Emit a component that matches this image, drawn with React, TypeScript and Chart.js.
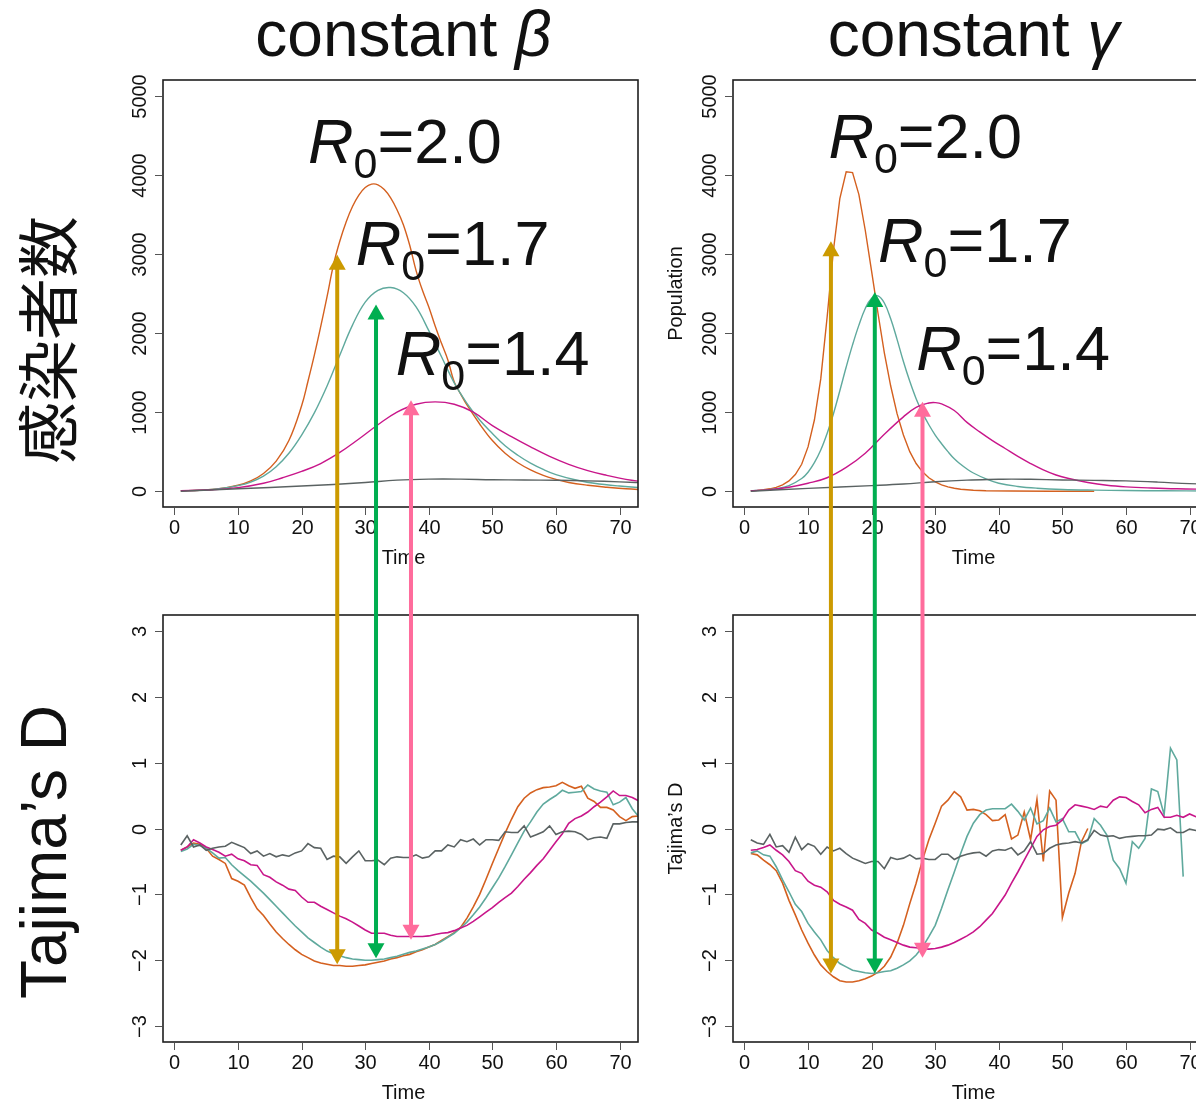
import React, { useEffect, useRef } from 'react';
import { Chart, registerables } from 'chart.js';

Chart.register(...registerables);

// ---------------- data ----------------
const X_TICKS = [0, 10, 20, 30, 40, 50, 60, 70];
const POP_TICKS = [0, 1000, 2000, 3000, 4000, 5000];
const D_TICKS = [-3, -2, -1, 0, 1, 2, 3];
const D_TICK_LABELS = ['\u22123', '\u22122', '\u22121', '0', '1', '2', '3'];
const R0_VALUES = ['2.0', '1.7', '1.4'];

// constant beta, infected population
const betaR20Time = [1, 4, 7, 10, 12, 14, 16, 18, 20, 21, 22, 23, 24, 25, 26, 27, 28, 29, 30, 31, 32, 33, 34, 35, 36, 37, 38, 39, 40, 41, 42, 43, 44, 45, 46, 48, 50, 52, 54, 56, 58, 60, 62, 65, 68, 71, 75];
const betaR20Pop = [5, 12, 30, 75, 130, 224, 380, 640, 1080, 1390, 1720, 2080, 2460, 2860, 3160, 3405, 3600, 3745, 3840, 3883, 3875, 3815, 3710, 3560, 3370, 3110, 2790, 2540, 2330, 2090, 1870, 1660, 1380, 1230, 1090, 850, 640, 480, 360, 270, 200, 150, 110, 75, 50, 30, 15];
const betaR17Time = [1, 4, 7, 10, 12, 14, 16, 18, 20, 22, 24, 26, 28, 30, 32, 34, 36, 38, 40, 42, 44, 46, 48, 50, 52, 54, 56, 58, 60, 63, 66, 70, 75];
const betaR17Pop = [5, 12, 30, 70, 115, 190, 310, 480, 710, 990, 1330, 1720, 2100, 2390, 2540, 2575, 2510, 2330, 2030, 1700, 1370, 1110, 900, 730, 575, 455, 355, 275, 210, 145, 100, 65, 35];
const betaR14Time = [1, 5, 10, 14, 17, 20, 23, 26, 29, 32, 35, 38, 41, 44, 47, 50, 53, 56, 59, 62, 65, 68, 71, 75];
const betaR14Pop = [5, 15, 45, 100, 170, 250, 350, 490, 660, 840, 1000, 1100, 1130, 1100, 1000, 830, 690, 560, 440, 340, 260, 200, 150, 105];
const betaR10Time = [1, 10, 20, 25, 30, 35, 40, 45, 50, 55, 60, 65, 70, 75];
const betaR10Pop = [0, 30, 65, 85, 110, 140, 152, 152, 145, 142, 138, 130, 118, 100];

// constant gamma, infected population
const gammaR20Time = [1, 2, 3, 4, 5, 6, 7, 8, 9, 10, 11, 12, 13, 14, 15, 16, 17, 18, 19, 20, 21, 22, 23, 24, 25, 26, 27, 28, 29, 30, 31, 32, 33, 34, 36, 38, 42, 48, 55];
const gammaR20Pop = [5, 10, 18, 30, 48, 80, 130, 210, 340, 560, 900, 1420, 2200, 3050, 3700, 4040, 4030, 3750, 3300, 2780, 2250, 1750, 1330, 980, 710, 500, 350, 245, 170, 118, 80, 55, 37, 25, 12, 6, 2, 0, 0];
const gammaR17Time = [1, 3, 5, 7, 9, 10, 11, 12, 13, 14, 15, 16, 17, 18, 19, 20, 21, 22, 23, 24, 25, 26, 27, 28, 29, 30, 31, 32, 33, 34, 35, 36, 38, 40, 43, 46, 50, 55, 60, 66, 73];
const gammaR17Pop = [5, 14, 30, 70, 160, 240, 360, 520, 730, 980, 1270, 1570, 1850, 2100, 2310, 2440, 2470, 2380, 2180, 1920, 1640, 1390, 1170, 990, 840, 710, 600, 500, 410, 340, 280, 230, 155, 100, 60, 38, 22, 13, 8, 5, 3];
const gammaR14Time = [1, 4, 7, 10, 13, 16, 19, 22, 25, 27, 29, 30, 31, 33, 35, 37, 39, 41, 43, 45, 47, 49, 51, 54, 57, 60, 64, 68, 73];
const gammaR14Pop = [5, 20, 50, 100, 170, 300, 480, 720, 940, 1060, 1115, 1120, 1105, 1020, 870, 750, 640, 540, 440, 350, 270, 205, 160, 110, 75, 55, 40, 30, 25];
const gammaR10Time = [1, 10, 20, 25, 30, 35, 40, 42, 45, 50, 55, 60, 65, 70, 75];
const gammaR10Pop = [0, 35, 70, 90, 120, 140, 150, 153, 150, 142, 137, 130, 115, 95, 85];

// Tajima's D, one value per day starting at day 1
const betaR20D = [-0.33, -0.28, -0.22, -0.24, -0.30, -0.42, -0.47, -0.53, -0.76, -0.80, -0.86, -1.05, -1.22, -1.32, -1.45, -1.57, -1.67, -1.76, -1.84, -1.91, -1.96, -2.01, -2.04, -2.06, -2.08, -2.08, -2.09, -2.09, -2.08, -2.07, -2.05, -2.03, -2.01, -1.98, -1.96, -1.93, -1.91, -1.87, -1.84, -1.80, -1.76, -1.70, -1.64, -1.58, -1.50, -1.36, -1.19, -1.00, -0.77, -0.53, -0.30, -0.07, 0.14, 0.33, 0.46, 0.54, 0.59, 0.62, 0.63, 0.65, 0.70, 0.65, 0.61, 0.64, 0.46, 0.41, 0.32, 0.32, 0.28, 0.18, 0.12, 0.18, 0.19];
const betaR17D = [-0.35, -0.31, -0.24, -0.26, -0.30, -0.37, -0.45, -0.44, -0.55, -0.64, -0.72, -0.80, -0.89, -0.98, -1.08, -1.18, -1.28, -1.38, -1.48, -1.57, -1.66, -1.73, -1.80, -1.86, -1.90, -1.93, -1.96, -1.98, -1.99, -2.00, -2.00, -1.99, -1.98, -1.96, -1.94, -1.91, -1.88, -1.86, -1.83, -1.80, -1.76, -1.71, -1.65, -1.59, -1.51, -1.42, -1.31, -1.19, -1.05, -0.90, -0.75, -0.58, -0.40, -0.22, -0.04, 0.10, 0.25, 0.37, 0.44, 0.50, 0.58, 0.54, 0.55, 0.56, 0.66, 0.60, 0.57, 0.55, 0.36, 0.40, 0.47, 0.30, 0.18];
const betaR14D = [-0.33, -0.28, -0.17, -0.22, -0.28, -0.32, -0.36, -0.42, -0.39, -0.46, -0.49, -0.55, -0.56, -0.70, -0.74, -0.81, -0.86, -0.92, -0.94, -1.04, -1.12, -1.12, -1.18, -1.23, -1.28, -1.33, -1.37, -1.42, -1.48, -1.54, -1.59, -1.59, -1.59, -1.62, -1.64, -1.64, -1.64, -1.64, -1.64, -1.63, -1.61, -1.59, -1.58, -1.55, -1.51, -1.47, -1.41, -1.34, -1.27, -1.20, -1.12, -1.05, -0.98, -0.88, -0.77, -0.67, -0.56, -0.46, -0.33, -0.20, -0.08, 0.08, 0.15, 0.19, 0.25, 0.33, 0.40, 0.48, 0.57, 0.50, 0.50, 0.47, 0.42];
const betaR10D = [-0.25, -0.11, -0.28, -0.25, -0.33, -0.30, -0.28, -0.27, -0.21, -0.25, -0.29, -0.38, -0.34, -0.42, -0.38, -0.43, -0.40, -0.42, -0.37, -0.34, -0.23, -0.29, -0.30, -0.47, -0.42, -0.43, -0.53, -0.43, -0.34, -0.49, -0.49, -0.48, -0.55, -0.45, -0.43, -0.44, -0.44, -0.40, -0.45, -0.43, -0.34, -0.34, -0.25, -0.28, -0.17, -0.20, -0.16, -0.25, -0.17, -0.17, -0.18, -0.05, -0.06, -0.06, 0.04, -0.13, -0.09, -0.05, 0.04, -0.09, -0.05, -0.04, -0.05, -0.09, -0.17, -0.14, -0.13, -0.15, 0.07, 0.07, 0.09, 0.10, 0.10];

const gammaR20D = [-0.38, -0.40, -0.48, -0.55, -0.64, -0.83, -1.09, -1.31, -1.54, -1.74, -1.92, -2.07, -2.17, -2.25, -2.31, -2.33, -2.33, -2.31, -2.28, -2.24, -2.18, -2.09, -1.95, -1.74, -1.47, -1.14, -0.83, -0.48, -0.17, 0.08, 0.34, 0.43, 0.56, 0.48, 0.28, 0.29, 0.27, 0.21, 0.12, 0.13, 0.21, -0.16, -0.10, 0.25, -0.17, 0.44, -0.50, 0.57, 0.43, -1.35, -0.98, -0.68, -0.20, 0.00];
const gammaR17D = [-0.37, -0.34, -0.40, -0.42, -0.58, -0.78, -0.96, -1.15, -1.26, -1.44, -1.57, -1.69, -1.85, -1.96, -2.05, -2.10, -2.15, -2.17, -2.19, -2.20, -2.19, -2.17, -2.16, -2.12, -2.07, -2.01, -1.92, -1.80, -1.64, -1.47, -1.21, -0.93, -0.66, -0.38, -0.12, 0.08, 0.21, 0.28, 0.30, 0.30, 0.30, 0.37, 0.26, 0.13, 0.31, 0.07, 0.12, 0.31, 0.10, 0.15, -0.05, -0.05, -0.23, -0.18, 0.15, 0.05, -0.10, -0.48, -0.61, -0.83, -0.20, -0.30, -0.15, 0.60, 0.56, 0.21, 1.22, 1.04, -0.73];
const gammaR14D = [-0.33, -0.32, -0.29, -0.25, -0.33, -0.40, -0.50, -0.64, -0.68, -0.80, -0.86, -0.89, -0.96, -1.09, -1.15, -1.19, -1.24, -1.38, -1.44, -1.54, -1.59, -1.65, -1.69, -1.73, -1.77, -1.80, -1.81, -1.82, -1.83, -1.82, -1.80, -1.77, -1.73, -1.68, -1.63, -1.57, -1.49, -1.39, -1.29, -1.15, -1.01, -0.83, -0.66, -0.48, -0.30, -0.12, -0.02, 0.03, 0.05, 0.13, 0.28, 0.36, 0.34, 0.32, 0.29, 0.34, 0.32, 0.43, 0.48, 0.47, 0.41, 0.36, 0.24, 0.29, 0.32, 0.17, 0.17, 0.20, 0.17, 0.22, 0.18, 0.17, 0.16];
const gammaR10D = [-0.17, -0.22, -0.24, -0.09, -0.28, -0.26, -0.36, -0.13, -0.32, -0.23, -0.27, -0.39, -0.28, -0.34, -0.30, -0.38, -0.45, -0.49, -0.53, -0.50, -0.50, -0.61, -0.44, -0.47, -0.45, -0.40, -0.46, -0.45, -0.47, -0.47, -0.39, -0.39, -0.47, -0.42, -0.39, -0.37, -0.36, -0.42, -0.34, -0.32, -0.33, -0.29, -0.40, -0.34, -0.20, -0.39, -0.38, -0.30, -0.25, -0.23, -0.22, -0.20, -0.22, -0.17, -0.03, -0.10, -0.12, -0.11, -0.15, -0.13, -0.12, -0.11, -0.11, -0.10, -0.01, -0.02, 0.01, -0.06, -0.06, -0.01, -0.03, -0.03, -0.05];

// arrows (R0 = 2.0, 1.7, 1.4): time, tip on infected curve, tip on Tajima's D
const betaArrowTime = [25.6, 31.7, 37.2];
const betaArrowPop = [2990, 2360, 1150];
const betaArrowD = [-2.06, -1.97, -1.69];
const gammaArrowTime = [13.6, 20.5, 28.0];
const gammaArrowPop = [3160, 2520, 1130];
const gammaArrowD = [-2.2, -2.2, -1.96];

// R0 label anchors (left edge, baseline) in data units
const betaLabelTime = [21.0, 28.5, 34.8];
const betaLabelPop = [4150, 2860, 1468];
const gammaLabelTime = [13.2, 21.0, 27.0];
const gammaLabelPop = [4215, 2903, 1532];

// ---------------- styles ----------------
const COL = { r20: '#D4601F', r17: '#5FA99D', r14: '#C8168A', r10: '#5A6262' };
const ARROW_COLORS = ['#CC9A00', '#00AE50', '#FF6C9C'];
const FONT = '"Liberation Sans", Arial, Helvetica, sans-serif';
const CJK = '"Noto Sans CJK JP", "Noto Sans CJK SC", sans-serif';

const COL_LEFT = [0, 665];
const COL_W = [665, 575];
const ROW_TOP = [0, 590];
const ROW_H = [590, 513];
const PAD_X = [{ left: 163, right: 27 }, { left: 68, right: 32 }];
const PAD_Y = [{ top: 80, bottom: 83 }, { top: 25, bottom: 61 }];

type Line = { t: number[]; v: number[]; color: string; smooth: boolean };

const days = (v: number[]) => v.map((_, i) => i + 1);

interface Panel {
  col: number;
  row: number;
  lines: Line[];
  width: number;
  yMin: number;
  yMax: number;
  yTicks: number[];
  yTickLabels: string[];
  yTitle?: string;
  title?: [string, string];
  side?: string;
  sideY?: number;
  labelTime?: number[];
  labelPop?: number[];
}

const PANELS: Panel[] = [
  {
    col: 0, row: 0, width: 1.4, yMin: -200, yMax: 5200,
    yTicks: POP_TICKS, yTickLabels: POP_TICKS.map(String),
    lines: [
      { t: betaR10Time, v: betaR10Pop, color: COL.r10, smooth: true },
      { t: betaR14Time, v: betaR14Pop, color: COL.r14, smooth: true },
      { t: betaR17Time, v: betaR17Pop, color: COL.r17, smooth: true },
      { t: betaR20Time, v: betaR20Pop, color: COL.r20, smooth: true },
    ],
    title: ['constant ', '\u03B2'], side: '感染者数', sideY: 340,
    labelTime: betaLabelTime, labelPop: betaLabelPop,
  },
  {
    col: 1, row: 0, width: 1.4, yMin: -200, yMax: 5200,
    yTicks: POP_TICKS, yTickLabels: POP_TICKS.map(String), yTitle: 'Population',
    lines: [
      { t: gammaR10Time, v: gammaR10Pop, color: COL.r10, smooth: true },
      { t: gammaR14Time, v: gammaR14Pop, color: COL.r14, smooth: true },
      { t: gammaR17Time, v: gammaR17Pop, color: COL.r17, smooth: true },
      { t: gammaR20Time, v: gammaR20Pop, color: COL.r20, smooth: false },
    ],
    title: ['constant ', '\u03B3'],
    labelTime: gammaLabelTime, labelPop: gammaLabelPop,
  },
  {
    col: 0, row: 1, width: 1.6, yMin: -3.24, yMax: 3.24,
    yTicks: D_TICKS, yTickLabels: D_TICK_LABELS,
    lines: [
      { t: days(betaR10D), v: betaR10D, color: COL.r10, smooth: false },
      { t: days(betaR14D), v: betaR14D, color: COL.r14, smooth: false },
      { t: days(betaR17D), v: betaR17D, color: COL.r17, smooth: false },
      { t: days(betaR20D), v: betaR20D, color: COL.r20, smooth: false },
    ],
    side: 'Tajima\u2019s D', sideY: 852,
  },
  {
    col: 1, row: 1, width: 1.6, yMin: -3.24, yMax: 3.24,
    yTicks: D_TICKS, yTickLabels: D_TICK_LABELS, yTitle: 'Tajima\u2019s D',
    lines: [
      { t: days(gammaR10D), v: gammaR10D, color: COL.r10, smooth: false },
      { t: days(gammaR14D), v: gammaR14D, color: COL.r14, smooth: false },
      { t: days(gammaR17D), v: gammaR17D, color: COL.r17, smooth: false },
      { t: days(gammaR20D), v: gammaR20D, color: COL.r20, smooth: false },
    ],
  },
];

function rotText(ctx: CanvasRenderingContext2D, text: string, x: number, y: number, font: string) {
  ctx.save();
  ctx.translate(x, y);
  ctx.rotate(-Math.PI / 2);
  ctx.font = font;
  ctx.textAlign = 'center';
  ctx.textBaseline = 'middle';
  ctx.fillText(text, 0, 0);
  ctx.restore();
}

function decorPlugin(p: Panel) {
  return {
    id: 'panelDecor',
    afterDraw(chart: any) {
      const ctx: CanvasRenderingContext2D = chart.ctx;
      const a = chart.chartArea;
      const xs = chart.scales.x;
      const ys = chart.scales.y;
      ctx.save();
      ctx.fillStyle = '#111';

      // R0 labels
      if (p.labelTime && p.labelPop) {
        const big = 63, small = 43;
        for (let i = 0; i < R0_VALUES.length; i++) {
          let x = xs.getPixelForValue(p.labelTime[i]);
          const y = ys.getPixelForValue(p.labelPop[i]);
          ctx.textAlign = 'left';
          ctx.textBaseline = 'alphabetic';
          ctx.font = `italic ${big}px ${FONT}`;
          ctx.fillText('R', x, y);
          x += ctx.measureText('R').width;
          ctx.font = `${small}px ${FONT}`;
          ctx.fillText('0', x, y + 15);
          x += ctx.measureText('0').width;
          ctx.font = `${big}px ${FONT}`;
          ctx.fillText('=' + R0_VALUES[i], x, y);
        }
      }

      // box
      ctx.strokeStyle = '#1e1e1e';
      ctx.lineWidth = 1.6;
      ctx.strokeRect(a.left, a.top, a.right - a.left, a.bottom - a.top);

      // x axis
      ctx.strokeStyle = '#555';
      ctx.lineWidth = 1;
      ctx.font = `20px ${FONT}`;
      ctx.textAlign = 'center';
      ctx.textBaseline = 'middle';
      for (const t of X_TICKS) {
        const px = Math.round(xs.getPixelForValue(t)) + 0.5;
        ctx.beginPath();
        ctx.moveTo(px, a.bottom + 1);
        ctx.lineTo(px, a.bottom + 8);
        ctx.stroke();
        ctx.fillText(String(t), px, a.bottom + 21);
      }
      ctx.fillText('Time', (a.left + a.right) / 2 + 3, a.bottom + 51);

      // y axis
      p.yTicks.forEach((v, i) => {
        const py = Math.round(ys.getPixelForValue(v)) + 0.5;
        ctx.beginPath();
        ctx.moveTo(a.left - 1, py);
        ctx.lineTo(a.left - 8, py);
        ctx.stroke();
        rotText(ctx, p.yTickLabels[i], a.left - 23, py, `20px ${FONT}`);
      });
      if (p.yTitle) rotText(ctx, p.yTitle, a.left - 57, (a.top + a.bottom) / 2, `20px ${FONT}`);

      // column title
      if (p.title) {
        const [plain, greek] = p.title;
        ctx.textAlign = 'left';
        ctx.textBaseline = 'alphabetic';
        ctx.font = `64px ${FONT}`;
        const w1 = ctx.measureText(plain).width;
        ctx.font = `italic 64px ${FONT}`;
        const w2 = ctx.measureText(greek).width;
        const x0 = (a.left + a.right) / 2 + 3 - (w1 + w2) / 2;
        ctx.font = `64px ${FONT}`;
        ctx.fillText(plain, x0, 56);
        ctx.font = `italic 64px ${FONT}`;
        ctx.fillText(greek, x0 + w1, 56);
      }

      // row label on the far left
      if (p.side && p.sideY !== undefined) {
        const isCjk = /[\u3000-\u9fff]/.test(p.side);
        rotText(ctx, p.side, 48 - COL_LEFT[p.col], p.sideY - ROW_TOP[p.row],
          isCjk ? `62px ${CJK}` : `64px ${FONT}`);
      }
      ctx.restore();
    },
  };
}

function buildConfig(p: Panel): any {
  return {
    type: 'line',
    data: {
      datasets: p.lines.map((l) => ({
        data: l.t.map((t, i) => ({ x: t, y: l.v[i] })),
        borderColor: l.color,
        borderWidth: p.width,
        pointRadius: 0,
        fill: false,
        tension: l.smooth ? 0.4 : 0,
      })),
    },
    options: {
      responsive: false,
      animation: false,
      devicePixelRatio: 1,
      events: [],
      layout: {
        padding: {
          left: PAD_X[p.col].left,
          right: PAD_X[p.col].right,
          top: PAD_Y[p.row].top,
          bottom: PAD_Y[p.row].bottom,
        },
      },
      plugins: { legend: { display: false }, tooltip: { enabled: false }, title: { display: false } },
      scales: {
        x: { type: 'linear', min: -1.8, max: 72.9, display: false },
        y: { type: 'linear', min: p.yMin, max: p.yMax, display: false },
      },
    },
    plugins: [decorPlugin(p)],
  };
}

function drawArrows(
  ctx: CanvasRenderingContext2D, top: any, bottom: any, col: number,
  times: number[], pops: number[], ds: number[],
) {
  const head = 15, half = 8.5;
  for (let i = 0; i < times.length; i++) {
    const x = COL_LEFT[col] + top.scales.x.getPixelForValue(times[i]);
    const y1 = ROW_TOP[0] + top.scales.y.getPixelForValue(pops[i]);
    const y2 = ROW_TOP[1] + bottom.scales.y.getPixelForValue(ds[i]);
    ctx.strokeStyle = ARROW_COLORS[i];
    ctx.fillStyle = ARROW_COLORS[i];
    ctx.lineWidth = 4;
    ctx.beginPath();
    ctx.moveTo(x, y1 + head - 1);
    ctx.lineTo(x, y2 - head + 1);
    ctx.stroke();
    ctx.beginPath();
    ctx.moveTo(x, y1);
    ctx.lineTo(x - half, y1 + head);
    ctx.lineTo(x + half, y1 + head);
    ctx.closePath();
    ctx.fill();
    ctx.beginPath();
    ctx.moveTo(x, y2);
    ctx.lineTo(x - half, y2 - head);
    ctx.lineTo(x + half, y2 - head);
    ctx.closePath();
    ctx.fill();
  }
}

export default function App() {
  const r0 = useRef<HTMLCanvasElement>(null);
  const r1 = useRef<HTMLCanvasElement>(null);
  const r2 = useRef<HTMLCanvasElement>(null);
  const r3 = useRef<HTMLCanvasElement>(null);
  const ov = useRef<HTMLCanvasElement>(null);
  const refs = [r0, r1, r2, r3];

  useEffect(() => {
    const charts = PANELS.map((p, i) => new Chart(refs[i].current as HTMLCanvasElement, buildConfig(p)));
    const oc = ov.current as HTMLCanvasElement;
    const ctx = oc.getContext('2d') as CanvasRenderingContext2D;
    ctx.clearRect(0, 0, oc.width, oc.height);
    drawArrows(ctx, charts[0], charts[2], 0, betaArrowTime, betaArrowPop, betaArrowD);
    drawArrows(ctx, charts[1], charts[3], 1, gammaArrowTime, gammaArrowPop, gammaArrowD);
    return () => {
      charts.forEach((c) => c.destroy());
      ctx.clearRect(0, 0, oc.width, oc.height);
    };
  }, []);

  return (
    <div style={{ position: 'absolute', left: 0, top: 0, width: 1196, height: 1103, overflow: 'hidden', background: '#fff' }}>
      {PANELS.map((p, i) => (
        <canvas
          key={i}
          ref={refs[i]}
          width={COL_W[p.col]}
          height={ROW_H[p.row]}
          style={{ position: 'absolute', left: COL_LEFT[p.col], top: ROW_TOP[p.row], width: COL_W[p.col], height: ROW_H[p.row] }}
        />
      ))}
      <canvas
        ref={ov}
        width={1196}
        height={1103}
        style={{ position: 'absolute', left: 0, top: 0, width: 1196, height: 1103, pointerEvents: 'none' }}
      />
    </div>
  );
}
